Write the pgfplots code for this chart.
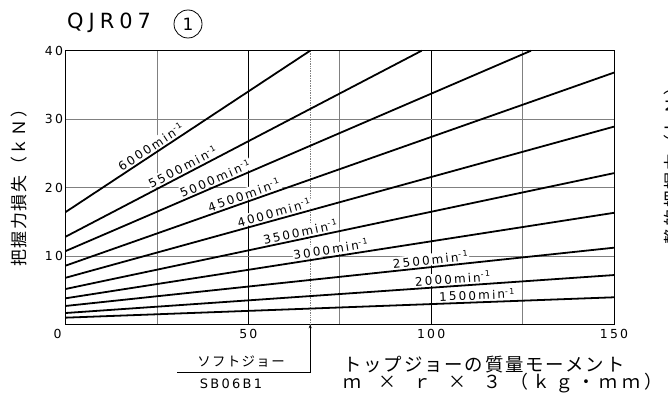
\documentclass[border=0pt]{standalone}
\usepackage{fontspec}
\setmainfont{DejaVu Sans}
\newfontfamily\cad[LetterSpace=18]{DejaVu Sans}
\newfontfamily\cadt[LetterSpace=24]{DejaVu Sans}
\newfontfamily\cjk[LetterSpace=10]{Noto Sans CJK JP}
\newfontfamily\cjkw[LetterSpace=25]{Noto Sans CJK JP}
\usepackage{pgfplots}
\pgfplotsset{compat=1.18}
\usetikzlibrary{arrows.meta}

\newcommand{\rpm}[1]{{\cad\fontsize{12}{12}\selectfont #1min\textsuperscript{-1}}}
\newcommand{\cell}[1]{\makebox[35bp][c]{#1}}

\begin{document}
\begin{tikzpicture}[x=1bp,y=1bp]
\path[use as bounding box] (0,0) rectangle (668,401);
\begin{axis}[
  at={(65.5bp,76.7bp)}, anchor=south west,
  scale only axis, width=548.5bp, height=273.6bp,
  xmin=0, xmax=150, ymin=0, ymax=40,
  xtick={0,50,100,150}, ytick={10,20,30,40},
  xticklabels={0\hspace*{16bp},50,100,150},
  minor xtick={25,75,125},
  xmajorgrids, xminorgrids, ymajorgrids,
  major x grid style={black, line width=0.6pt},
  minor x grid style={gray, line width=0.8pt},
  major y grid style={gray, line width=0.8pt},
  major tick length=0pt, minor tick length=0pt,
  axis line style={black, line width=0.8pt},
  ticklabel style={font=\cad\fontsize{12.5}{12.5}\selectfont},
  /pgf/number format/assume math mode=true,
  yticklabel style={xshift=1bp},
  xticklabel style={yshift=-1bp},
  clip=false,
]
% dotted reference line (soft jaw SB06B1)
\addplot[gray, densely dotted, line width=0.7pt] coordinates {(66.9,0) (66.9,40)};

\addplot[black, line width=1.8pt] coordinates {(0,0.97) (150,3.95)}
  node[pos=0.751, sloped, anchor=south, fill=white, inner sep=0.8pt, yshift=0.8pt] {\rpm{1500}};
\addplot[black, line width=1.8pt] coordinates {(0,1.65) (150,7.2)}
  node[pos=0.707, sloped, anchor=south, fill=white, inner sep=0.8pt, yshift=0.8pt] {\rpm{2000}};
\addplot[black, line width=1.8pt] coordinates {(0,2.68) (150,11.2)}
  node[pos=0.667, sloped, anchor=south, fill=white, inner sep=0.8pt, yshift=0.8pt] {\rpm{2500}};
\addplot[black, line width=1.8pt] coordinates {(0,3.8) (150,16.3)}
  node[pos=0.486, sloped, anchor=south, fill=white, inner sep=0.8pt, yshift=0.8pt] {\rpm{3000}};
\addplot[black, line width=1.8pt] coordinates {(0,5.16) (150,22.1)}
  node[pos=0.431, sloped, anchor=south, fill=white, inner sep=0.8pt, yshift=0.8pt] {\rpm{3500}};
\addplot[black, line width=1.8pt] coordinates {(0,6.8) (150,28.9)}
  node[pos=0.384, sloped, anchor=south, fill=white, inner sep=0.8pt, yshift=0.8pt] {\rpm{4000}};
\addplot[black, line width=1.8pt] coordinates {(0,8.57) (150,36.8)}
  node[pos=0.33, sloped, anchor=south, fill=white, inner sep=0.8pt, yshift=0.8pt] {\rpm{4500}};
\addplot[black, line width=1.8pt] coordinates {(0,10.7) (127.3,40)}
  node[pos=0.328, sloped, anchor=south, fill=white, inner sep=0.8pt, yshift=0.8pt] {\rpm{5000}};
\addplot[black, line width=1.8pt] coordinates {(0,12.8) (97.4,40)}
  node[pos=0.339, sloped, anchor=south, fill=white, inner sep=0.8pt, yshift=0.8pt] {\rpm{5500}};
\addplot[black, line width=1.8pt] coordinates {(0,16.4) (66.9,40)}
  node[pos=0.366, sloped, anchor=south, fill=white, inner sep=0.8pt, yshift=0.8pt] {\rpm{6000}};
\end{axis}

% title
\node[anchor=west, inner sep=0pt] at (67,378.5) {\cadt\fontsize{21}{21}\selectfont QJR07};
\node[draw, circle, line width=0.8pt, minimum size=28bp, inner sep=0pt] at (188,377)
  {\fontsize{17}{17}\selectfont 1};

% y labels
\node[rotate=90, inner sep=0pt] at (19,217) {\cjk\fontsize{17}{17}\selectfont 把握力損失（ｋＮ）};
\node[rotate=90, inner sep=0pt] at (672,239) {\cjk\fontsize{17}{17}\selectfont 静的把握力（ｋＮ）};

% x label
\node[anchor=west, inner sep=0pt] at (343,36) {\cjk\fontsize{18.5}{18.5}\selectfont トップジョーの質量モーメント};
\node[anchor=west, inner sep=0pt] at (335,18) {\cjk\fontsize{18}{18}\selectfont
  \cell{ｍ}\cell{×}\cell{ｒ}\cell{×}\cell{３}{\cjkw （ｋｇ・ｍｍ）}};

% soft jaw callout
\node[inner sep=0pt] at (241,39) {\cjk\fontsize{13.5}{13.5}\selectfont ソフトジョー};
\node[inner sep=0pt] at (231,17) {\cad\fontsize{13}{13}\selectfont SB06B1};
\draw[line width=0.7pt, -{Stealth[length=4bp, width=3bp]}] (177,28.3) -- (310.2,28.3) -- (310.2,76.7);
\end{tikzpicture}
\end{document}
